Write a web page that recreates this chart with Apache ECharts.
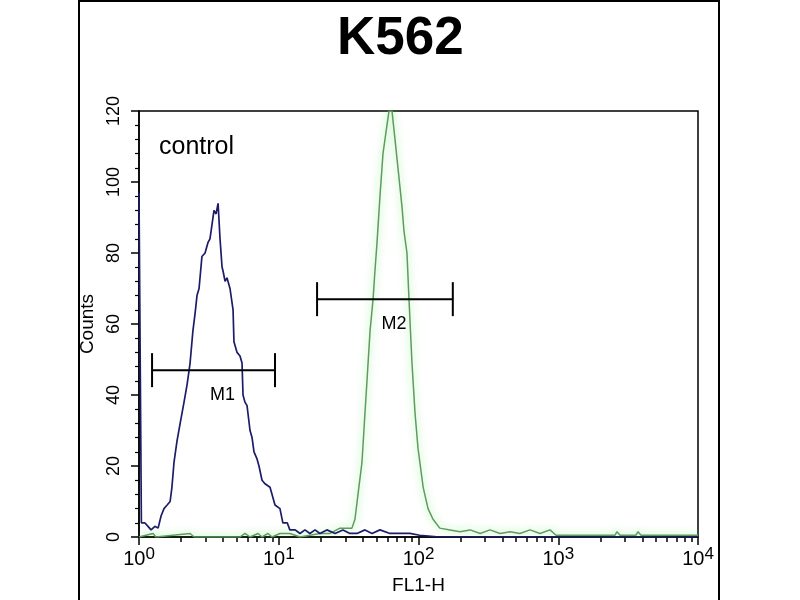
<!DOCTYPE html>
<html>
<head>
<meta charset="utf-8">
<script src="https://cdn.jsdelivr.net/npm/echarts@6/dist/echarts.min.js"></script>
<style>html,body{margin:0;padding:0;background:#fff}#c{width:800px;height:600px}</style>
</head>
<body>
<div id="c"></div>
<script>
// ---- data (FL1-H channel value, counts) ----
var chartTitle = 'K562';
var xName = 'FL1-H';
var yName = 'Counts';
var annotation = 'control';
var xDecades = [0, 1, 2, 3, 4];           // exponents of the tick labels 10^n
var yTicks = [0, 20, 40, 60, 80, 100, 120];

var controlFL1 = [1.00,1.02,1.04,1.10,1.16,1.22,1.30,1.37,1.44,1.51,1.59,1.67,1.72,1.78,1.87,1.97,2.10,2.21,2.32,2.43,2.52,2.60,2.69,2.82,2.97,3.12,3.22,3.33,3.44,3.56,3.68,3.80,3.93,3.99,4.13,4.26,4.48,4.71,4.78,5.03,5.28,5.46,5.55,5.73,5.93,6.23,6.44,6.65,6.99,7.22,7.59,7.97,8.66,9.40,10.2,10.7,11.5,12.0,13.1,14.2,15.4,16.7,18.2,19.7,22.1,25.3,28.8,32.3,36.3,41.4,46.5,53.0,62.5,73.8,86.9,102,142,300,1000,10000];
var controlCounts = [97,50,4,4,3,2,3,2.5,6,8,9,10,14,21,27,32,38,43,49,58,63,68,70,79,80,83,84,88,92,91,94,84,76,75,72,73,70,64,55,52,51,49,40,38,37,30,28,24,22,20,16,15,14,9,8,4,4,2,2,1,2,1,2,1,2,1,2,1,1,2,1,2,1,1,1,0.5,0,0,0,0];

var sampleFL1 = [1.00,1.26,1.32,2.32,2.48,5.28,5.73,6.23,7.11,7.59,8.38,8.95,10.2,12.0,14.2,19.7,23.3,27.4,33.4,35.1,36.9,39.4,41.4,42.8,45.0,47.3,48.8,50.5,53.0,55.7,59.5,61.5,64.6,67.9,71.3,76.2,78.8,82.7,85.5,89.8,94.4,99.2,108,117,127,142,168,198,234,276,325,383,452,532,628,740,873,964,1431,2547,2633,2766,3601,3722,3909,10000];
var sampleCounts = [0,1,0,1,0,0,1,0,1,0,1,0,1,1,0,1,1,2.5,2.5,5,12,21,35,44,58,67,75,83,96,108,116,120,120,112,104,93,86,80,67,49,35,25,14,8,5,2.5,2,1.5,2,1,2,1,1.5,1,2,1,2,0.5,0.5,0.5,1.5,0.5,0.5,1.5,0.5,0.5];

var gateNames = ['M1', 'M2'];
var gateLow = [1.24, 18.8];
var gateHigh = [9.4, 176];
var gateCounts = [47, 67];

// ---- build ----
function toPairs(xs, ys) {
  return xs.map(function (v, i) { return [Math.log10(v), ys[i]]; });
}
var minorTicks = [];
xDecades.slice(0, -1).forEach(function (d) {
  for (var k = 2; k <= 9; k++) minorTicks.push(d + Math.log10(k));
});
var gateData = gateNames.map(function (n, i) {
  return [Math.log10(gateLow[i]), Math.log10(gateHigh[i]), gateCounts[i], n];
});

var FONT = 'Liberation Sans';
var NARROW = "'Liberation Sans Narrow', 'Liberation Sans'";
var chart = echarts.init(document.getElementById('c'), null, { renderer: 'canvas' });
chart.setOption({
  backgroundColor: '#ffffff',
  animation: false,
  title: {
    text: chartTitle, left: 332, top: 8,
    textStyle: { fontSize: 53, fontWeight: 'bold', color: '#000', fontFamily: FONT }
  },
  grid: {
    left: 139, right: 102, top: 111, bottom: 58,
    show: true, borderColor: '#000', borderWidth: 1.5, backgroundColor: 'transparent'
  },
  xAxis: [{
    type: 'value', min: 0, max: 4, interval: 1, position: 'bottom',
    name: xName, nameLocation: 'middle', nameGap: 39,
    nameTextStyle: { fontSize: 19, color: '#000', fontFamily: NARROW },
    axisLine: { show: true, onZero: false, lineStyle: { color: '#000', width: 1.5 } },
    axisTick: { show: true, inside: false, length: 8, lineStyle: { color: '#000', width: 1.5 } },
    splitLine: { show: false },
    axisLabel: {
      margin: 9, color: '#000', fontFamily: NARROW,
      formatter: function (v) { return '{b|10}{s|' + v + '}'; },
      rich: {
        b: { fontSize: 20, color: '#000', fontFamily: NARROW },
        s: { fontSize: 17, color: '#000', fontFamily: NARROW, padding: [0, 0, 10, 0] }
      }
    }
  }, {
    type: 'value', min: 0, max: 4, position: 'bottom',
    axisLine: { show: false },
    axisTick: { show: true, inside: false, length: 5, customValues: minorTicks, lineStyle: { color: '#000', width: 1.5 } },
    axisLabel: { show: false },
    splitLine: { show: false }
  }],
  yAxis: {
    type: 'value', min: 0, max: 120, interval: 20,
    name: yName, nameLocation: 'middle', nameGap: 38, nameRotate: 90,
    nameTextStyle: { fontSize: 19, color: '#000', fontFamily: NARROW },
    axisLine: { show: true, lineStyle: { color: '#000', width: 1.5 } },
    axisTick: { show: true, inside: false, length: 8, lineStyle: { color: '#000', width: 1.5 } },
    minorTick: { show: true, splitNumber: 5, length: 4, lineStyle: { color: '#000', width: 1.2 } },
    splitLine: { show: false },
    axisLabel: { rotate: 90, margin: 16, fontSize: 18, color: '#000', fontFamily: NARROW }
  },
  series: [{
    name: 'sample', type: 'line', showSymbol: false, symbol: 'none',
    data: toPairs(sampleFL1, sampleCounts),
    lineStyle: { color: '#5c9c5c', width: 1.5, shadowColor: 'rgba(90,230,90,0.75)', shadowBlur: 8 },
    z: 3
  }, {
    name: 'control', type: 'line', showSymbol: false, symbol: 'none',
    data: toPairs(controlFL1, controlCounts),
    lineStyle: { color: '#1c1c68', width: 1.7 },
    z: 4
  }, {
    name: 'gates', type: 'custom', z: 5,
    data: gateData,
    renderItem: function (params, api) {
      var p1 = api.coord([api.value(0), api.value(2)]);
      var p2 = api.coord([api.value(1), api.value(2)]);
      var cap = 17;
      var st = { stroke: '#000', lineWidth: 2 };
      return {
        type: 'group',
        children: [
          { type: 'line', shape: { x1: p1[0], y1: p1[1], x2: p2[0], y2: p2[1] }, style: st },
          { type: 'line', shape: { x1: p1[0], y1: p1[1] - cap, x2: p1[0], y2: p1[1] + cap }, style: st },
          { type: 'line', shape: { x1: p2[0], y1: p2[1] - cap, x2: p2[0], y2: p2[1] + cap }, style: st },
          { type: 'text', x: (p1[0] + p2[0]) / 2 + 9, y: p1[1] + 25,
            style: { text: gateData[params.dataIndex][3], fill: '#000', fontSize: 18, fontFamily: NARROW, align: 'center', verticalAlign: 'middle' } }
        ]
      };
    }
  }],
  graphic: [{
    type: 'rect', silent: true, z: 100,
    shape: { x: 79, y: 1, width: 640, height: 620 },
    style: { fill: 'none', stroke: '#000', lineWidth: 2 }
  }, {
    type: 'text', left: 159, top: 135, z: 100,
    style: { text: annotation, fontSize: 25, fill: '#000', fontFamily: FONT }
  }]
});
</script>
</body>
</html>
